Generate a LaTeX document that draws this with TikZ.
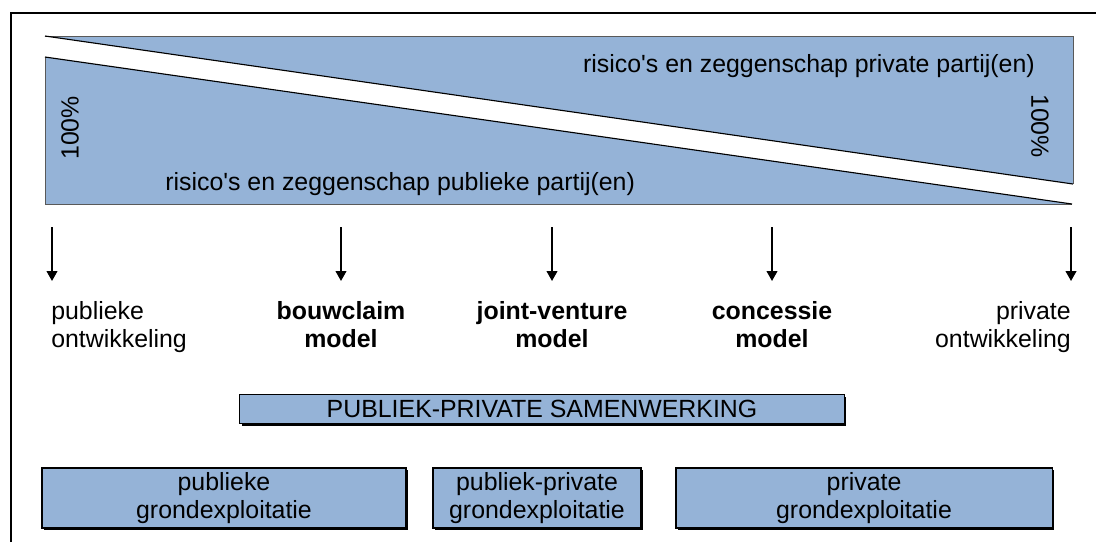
\documentclass[tikz,border=0pt]{standalone}
\usepackage{fontspec}
\setmainfont{Liberation Sans}
\usetikzlibrary{arrows.meta,shadows}
\definecolor{vlak}{HTML}{95B3D7}
\tikzset{
  vak/.style={draw=black, fill=vlak, line width=0.8pt, inner sep=0pt,
    drop shadow={shadow xshift=1.5pt, shadow yshift=-1.5pt, fill=black, opacity=1},
    align=center, font=\tekst},
  pijl/.style={-{Triangle[width=7.5pt,length=7pt]}, line width=1.3pt},
  label/.style={inner sep=0pt, font=\tekst}
}
\newcommand{\tekst}{\fontsize{17.7pt}{20pt}\selectfont}
\begin{document}
\begin{tikzpicture}[x=0.025cm, y=-0.025cm]
		\useasboundingbox (0,0) rectangle (1096,542);
		\draw[line width=1.5pt] (11,542) -- (11,13) -- (1096,13);		% Kader

		% Driehoeken
		\fill[vlak] (45,36) -- (1073,36) -- (1073,184) -- cycle;
		\draw[gray!70!black, line width=0.6pt] (45,36) -- (1073,36) -- (1073,184);
		\draw[line width=0.8pt] (45,36) -- (1073,184);
		\fill[vlak] (45,57) -- (1072,204) -- (45,204) -- cycle;
		\draw[gray!70!black, line width=0.6pt] (45,57) -- (45,204) -- (1072,204);
		\draw[line width=0.8pt] (45,57) -- (1072,204);

		\node[label, anchor=base east] (privtxt) at (1035,72) {risico\textquotesingle s en zeggenschap private partij(en)};
		\node[label, anchor=base west] (pubtxt) at (165,190) {risico\textquotesingle s en zeggenschap publieke partij(en)};
		\node[label, rotate=90] (pctlinks) at (70,128) {100\%};
		\node[label, rotate=-90] (pctrechts) at (1040,126) {100\%};

		% Pijlen
		\coordinate (a1) at (52,227);   \coordinate (b1) at (52,281);
		\coordinate (a2) at (341,227);  \coordinate (b2) at (341,281);
		\coordinate (a3) at (552,227);  \coordinate (b3) at (552,281);
		\coordinate (a4) at (772,227);  \coordinate (b4) at (772,281);
		\coordinate (a5) at (1071,227); \coordinate (b5) at (1071,281);
		\foreach \i in {1,...,5}
			\draw[pijl] (a\i) -- (b\i);

		% Vormen
		\node[label, anchor=north west, align=left] (m1) at (51,301) {publieke\\ontwikkeling};
		\node[label, anchor=north, align=center] (m2) at (341,301) {\bfseries bouwclaim\\\bfseries model};
		\node[label, anchor=north, align=center] (m3) at (552,301) {\bfseries joint-venture\\\bfseries model};
		\node[label, anchor=north, align=center] (m4) at (772,301) {\bfseries concessie\\\bfseries model};
		\node[label, anchor=north east, align=right] (m5) at (1071,301) {private\\ontwikkeling};

		% Vakken
		\node[vak, minimum width=15.1cm, minimum height=0.72cm] (pps) at (542,409) {PUBLIEK-PRIVATE SAMENWERKING};
		\node[vak, minimum width=9.1cm, minimum height=1.5cm] (g1) at (224,498) {publieke\\grondexploitatie};
		\node[vak, minimum width=5.2cm, minimum height=1.5cm] (g2) at (537,498) {publiek-private\\grondexploitatie};
		\node[vak, minimum width=9.4cm, minimum height=1.5cm] (g3) at (864,498) {private\\grondexploitatie};
\end{tikzpicture}
\end{document}
